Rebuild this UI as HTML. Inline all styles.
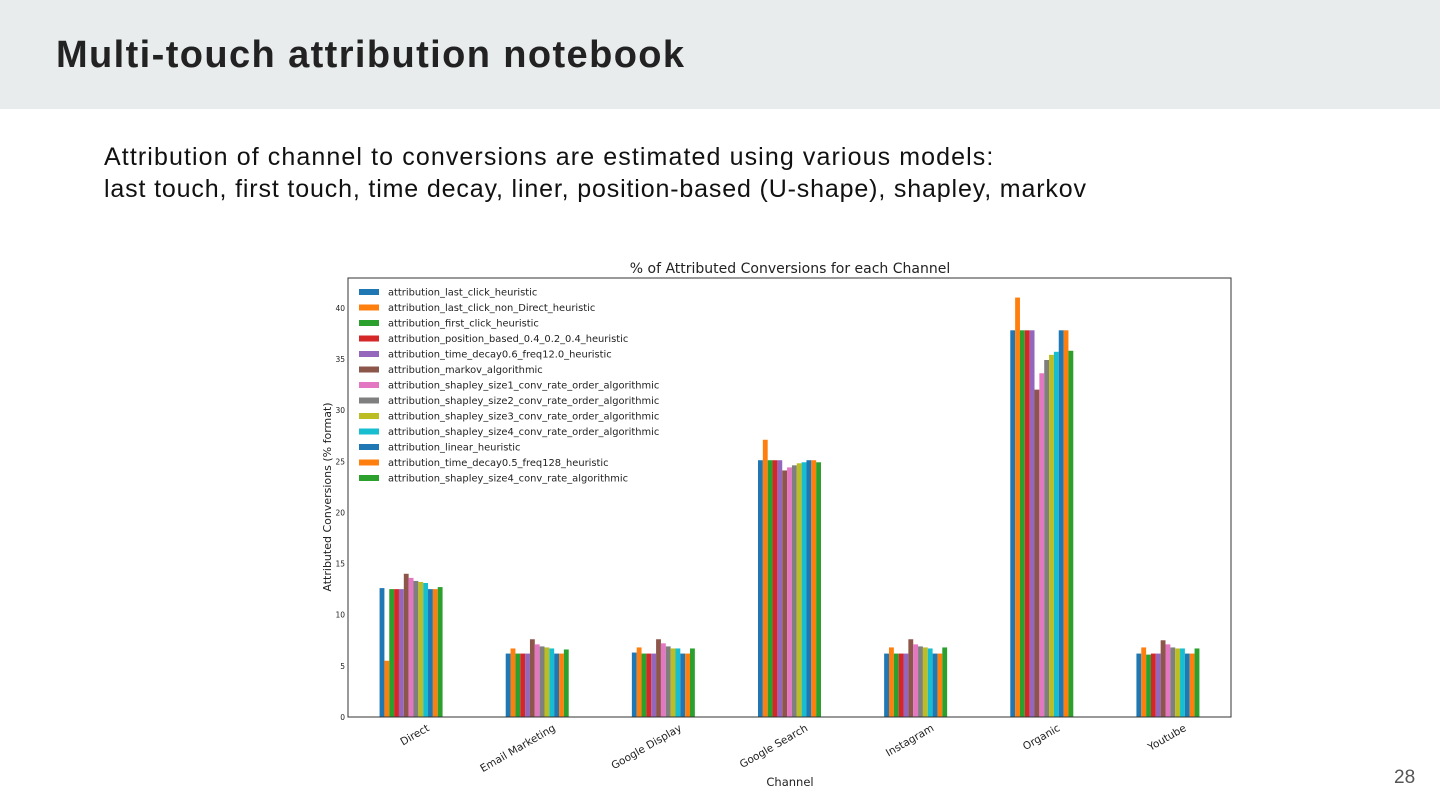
<!DOCTYPE html>
<html><head><meta charset="utf-8">
<style>
body{margin:0;width:1440px;height:810px;background:#fff;position:relative;overflow:hidden;font-family:"Liberation Sans",sans-serif}
#hdr{position:absolute;left:0;top:0;width:1440px;height:109px;background:#e8ecec}
#title{position:absolute;left:56px;top:34px;font-size:38px;font-weight:bold;color:#222;letter-spacing:1.4px}
.sub{position:absolute;left:104px;font-size:25px;color:#111}
#pg{position:absolute;left:1394px;top:767px;font-size:19px;color:#555}
svg text{font-family:"DejaVu Sans",sans-serif}
</style></head><body>
<div id="hdr"></div>
<div id="title">Multi-touch attribution notebook</div>
<div class="sub" style="top:143px;letter-spacing:1.1px">Attribution of channel to conversions are estimated using various models:</div>
<div class="sub" style="top:175px;letter-spacing:0.85px">last touch, first touch, time decay, liner, position-based (U-shape), shapley, markov</div>
<div id="pg">28</div>
<svg id="chart" width="1440" height="810" style="position:absolute;left:0;top:0"></svg>
<script>
const categories=["Direct","Email Marketing","Google Display","Google Search","Instagram","Organic","Youtube"];
const seriesNames=["attribution_last_click_heuristic","attribution_last_click_non_Direct_heuristic","attribution_first_click_heuristic","attribution_position_based_0.4_0.2_0.4_heuristic","attribution_time_decay0.6_freq12.0_heuristic","attribution_markov_algorithmic","attribution_shapley_size1_conv_rate_order_algorithmic","attribution_shapley_size2_conv_rate_order_algorithmic","attribution_shapley_size3_conv_rate_order_algorithmic","attribution_shapley_size4_conv_rate_order_algorithmic","attribution_linear_heuristic","attribution_time_decay0.5_freq128_heuristic","attribution_shapley_size4_conv_rate_algorithmic"];
const colors=["#1f77b4","#ff7f0e","#2ca02c","#d62728","#9467bd","#8c564b","#e377c2","#7f7f7f","#bcbd22","#17becf","#1f77b4","#ff7f0e","#2ca02c"];
const valDirect=[12.6,5.5,12.5,12.5,12.5,14.0,13.6,13.3,13.2,13.1,12.5,12.5,12.7];
const valEmail=[6.2,6.7,6.2,6.2,6.2,7.6,7.1,6.9,6.8,6.7,6.2,6.2,6.6];
const valDisplay=[6.3,6.8,6.2,6.2,6.2,7.6,7.2,6.9,6.7,6.7,6.2,6.2,6.7];
const valSearch=[25.1,27.1,25.1,25.1,25.1,24.1,24.4,24.6,24.8,24.9,25.1,25.1,24.9];
const valInstagram=[6.2,6.8,6.2,6.2,6.2,7.6,7.1,6.9,6.8,6.7,6.2,6.2,6.8];
const valOrganic=[37.8,41.0,37.8,37.8,37.8,32.0,33.6,34.9,35.4,35.7,37.8,37.8,35.8];
const valYoutube=[6.2,6.8,6.1,6.2,6.2,7.5,7.1,6.8,6.7,6.7,6.2,6.2,6.7];
const groups=[valDirect,valEmail,valDisplay,valSearch,valInstagram,valOrganic,valYoutube];
const yTicks=[0,5,10,15,20,25,30,35,40];

const svg=document.getElementById('chart');
const NS='http://www.w3.org/2000/svg';
const L=348,R=1231,T=278,B=717,PPU=10.23;
const y=v=>B-v*PPU;
const bw=(R-L)/categories.length;
const x=i=>L+bw*(i+0.5);
function mk(t,a,txt){const e=document.createElementNS(NS,t);for(const k in a)e.setAttribute(k,a[k]);if(txt!==undefined)e.textContent=txt;svg.appendChild(e);return e;}

const ttl=mk('text',{x:790,y:273,'font-size':14,'text-anchor':'middle',fill:'#222'},'% of Attributed Conversions for each Channel');



const barW=63/13;
groups.forEach((g,gi)=>{
  g.forEach((v,si)=>{
    const r=mk('rect',{x:x(gi)-31.5+si*barW,y:y(v),width:barW,height:v*PPU,fill:colors[si]});
    
    
  });
  const tl=mk('text',{x:0,y:0,'font-size':10.5,'text-anchor':'end',fill:'#222',transform:`translate(${x(gi)+19},${B+13}) rotate(-30)`},categories[gi]);
  
  
});

const frame=mk('rect',{x:L,y:T,width:R-L,height:B-T,fill:'none',stroke:'#333','stroke-width':1});



yTicks.forEach(t=>{
  const tk=mk('text',{x:345,y:y(t)+3,'font-size':7.5,'text-anchor':'end',fill:'#222'},String(t));
  
  
});

const yt=mk('text',{x:0,y:0,'font-size':11,'text-anchor':'middle',fill:'#222',transform:'translate(331,497) rotate(-90)'},'Attributed Conversions (% format)');


const xt=mk('text',{x:790,y:786,'font-size':11.5,'text-anchor':'middle',fill:'#222'},'Channel');



seriesNames.forEach((n,i)=>{
  const ry=292+i*15.5;
  const p=mk('rect',{x:359,y:ry-3,width:20,height:6,fill:colors[i]});
  
  
  const lt=mk('text',{x:388,y:ry+3.5,'font-size':9.9,fill:'#222'},n);
  
  
});
</script>
</body></html>
